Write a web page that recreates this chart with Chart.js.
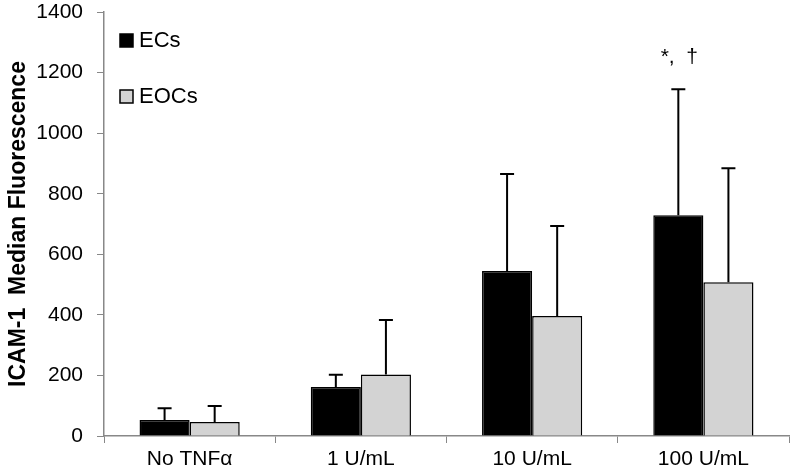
<!DOCTYPE html>
<html>
<head>
<meta charset="utf-8">
<script src="https://cdn.jsdelivr.net/npm/chart.js@4/dist/chart.umd.min.js"></script>
<style>
  html, body { margin: 0; padding: 0; background: #fff; }
  #wrap { width: 792px; height: 476px; }
</style>
</head>
<body>
<div id="wrap"><canvas id="icam"></canvas></div>
<script>
// data
const categories = ['No TNF\u03b1', '1 U/mL', '10 U/mL', '100 U/mL'];
const ecValues = [53, 162, 545, 729];
const ecErrors = [39, 40, 320, 416];
const eocValues = [46, 203, 396, 508];
const eocErrors = [53, 180, 297, 376];
const yTicks = [0, 200, 400, 600, 800, 1000, 1200, 1400];

const seriesNames = ['ECs', 'EOCs'];
const seriesColors = ['#000000', '#d3d3d3'];
const errs = [ecErrors, eocErrors];
const FONT = '"Liberation Sans", Arial, sans-serif';

// upward-only error bars
const errorBars = {
  id: 'errorBars',
  afterDatasetsDraw(chart) {
    const ctx = chart.ctx;
    const y = chart.scales.y;
    ctx.save();
    ctx.strokeStyle = '#000';
    ctx.lineWidth = 2;
    chart.data.datasets.forEach((ds, i) => {
      chart.getDatasetMeta(i).data.forEach((bar, j) => {
        const top = y.getPixelForValue(ds.data[j] + errs[i][j]);
        ctx.beginPath();
        ctx.moveTo(bar.x, bar.y);
        ctx.lineTo(bar.x, top);
        ctx.moveTo(bar.x - 7, top);
        ctx.lineTo(bar.x + 7, top);
        ctx.stroke();
      });
    });
    ctx.restore();
  }
};

// legend boxes inside the plot + significance mark
const extras = {
  id: 'extras',
  afterDraw(chart) {
    const ctx = chart.ctx;
    ctx.save();
    ctx.font = '22px ' + FONT;
    ctx.textBaseline = 'middle';
    const ys = [40, 96];
    seriesNames.forEach((n, i) => {
      ctx.fillStyle = seriesColors[i];
      ctx.fillRect(120, ys[i] - 6, 13, 13);
      ctx.strokeStyle = '#000';
      ctx.lineWidth = 1.5;
      ctx.strokeRect(120, ys[i] - 6, 13, 13);
      ctx.fillStyle = '#000';
      ctx.fillText(n, 139, ys[i] + 1);
    });
    const bar = chart.getDatasetMeta(0).data[3];
    const top = chart.scales.y.getPixelForValue(ecValues[3] + ecErrors[3]);
    ctx.font = '21px ' + FONT;
    ctx.textAlign = 'center';
    ctx.fillText('*,  \u2020', bar.x + 1, top - 32);
    ctx.restore();
  }
};

new Chart(document.getElementById('icam'), {
  type: 'bar',
  data: {
    labels: categories,
    datasets: [
      {
        label: seriesNames[0],
        data: ecValues,
        backgroundColor: seriesColors[0],
        borderColor: '#000',
        borderWidth: 1.5,
        barPercentage: 1,
        categoryPercentage: 0.585
      },
      {
        label: seriesNames[1],
        data: eocValues,
        backgroundColor: seriesColors[1],
        borderColor: '#000',
        borderWidth: 1.5,
        barPercentage: 1,
        categoryPercentage: 0.585
      }
    ]
  },
  options: {
    responsive: true,
    maintainAspectRatio: false,
    animation: false,
    layout: { padding: { top: 0, right: 3, left: 0, bottom: 0 } },
    plugins: {
      legend: { display: false },
      tooltip: { enabled: false }
    },
    scales: {
      x: {
        grid: { drawOnChartArea: false, offset: true, tickLength: 7, color: '#888' },
        border: { color: '#888', width: 1.5 },
        ticks: { color: '#000', font: { family: FONT, size: 21 }, padding: 4 },
        afterFit(s) { s.height = 40; }
      },
      y: {
        min: 0,
        max: 1400,
        afterBuildTicks(s) { s.ticks = yTicks.map(v => ({ value: v })); },
        grid: { drawOnChartArea: false, tickLength: 7, color: '#888' },
        border: { color: '#888', width: 1.5 },
        ticks: {
          color: '#000',
          font: { family: FONT, size: 21 },
          padding: 14,
          callback: v => String(v)
        },
        title: {
          display: true,
          text: 'ICAM-1  Median Fluorescence',
          color: '#000',
          font: { family: FONT, size: 23, weight: 'bold' },
          padding: { top: 5, bottom: 0 }
        },
        afterFit(s) { s.width = 104; s.paddingTop = 12; }
      }
    }
  },
  plugins: [errorBars, extras]
});
</script>
</body>
</html>
